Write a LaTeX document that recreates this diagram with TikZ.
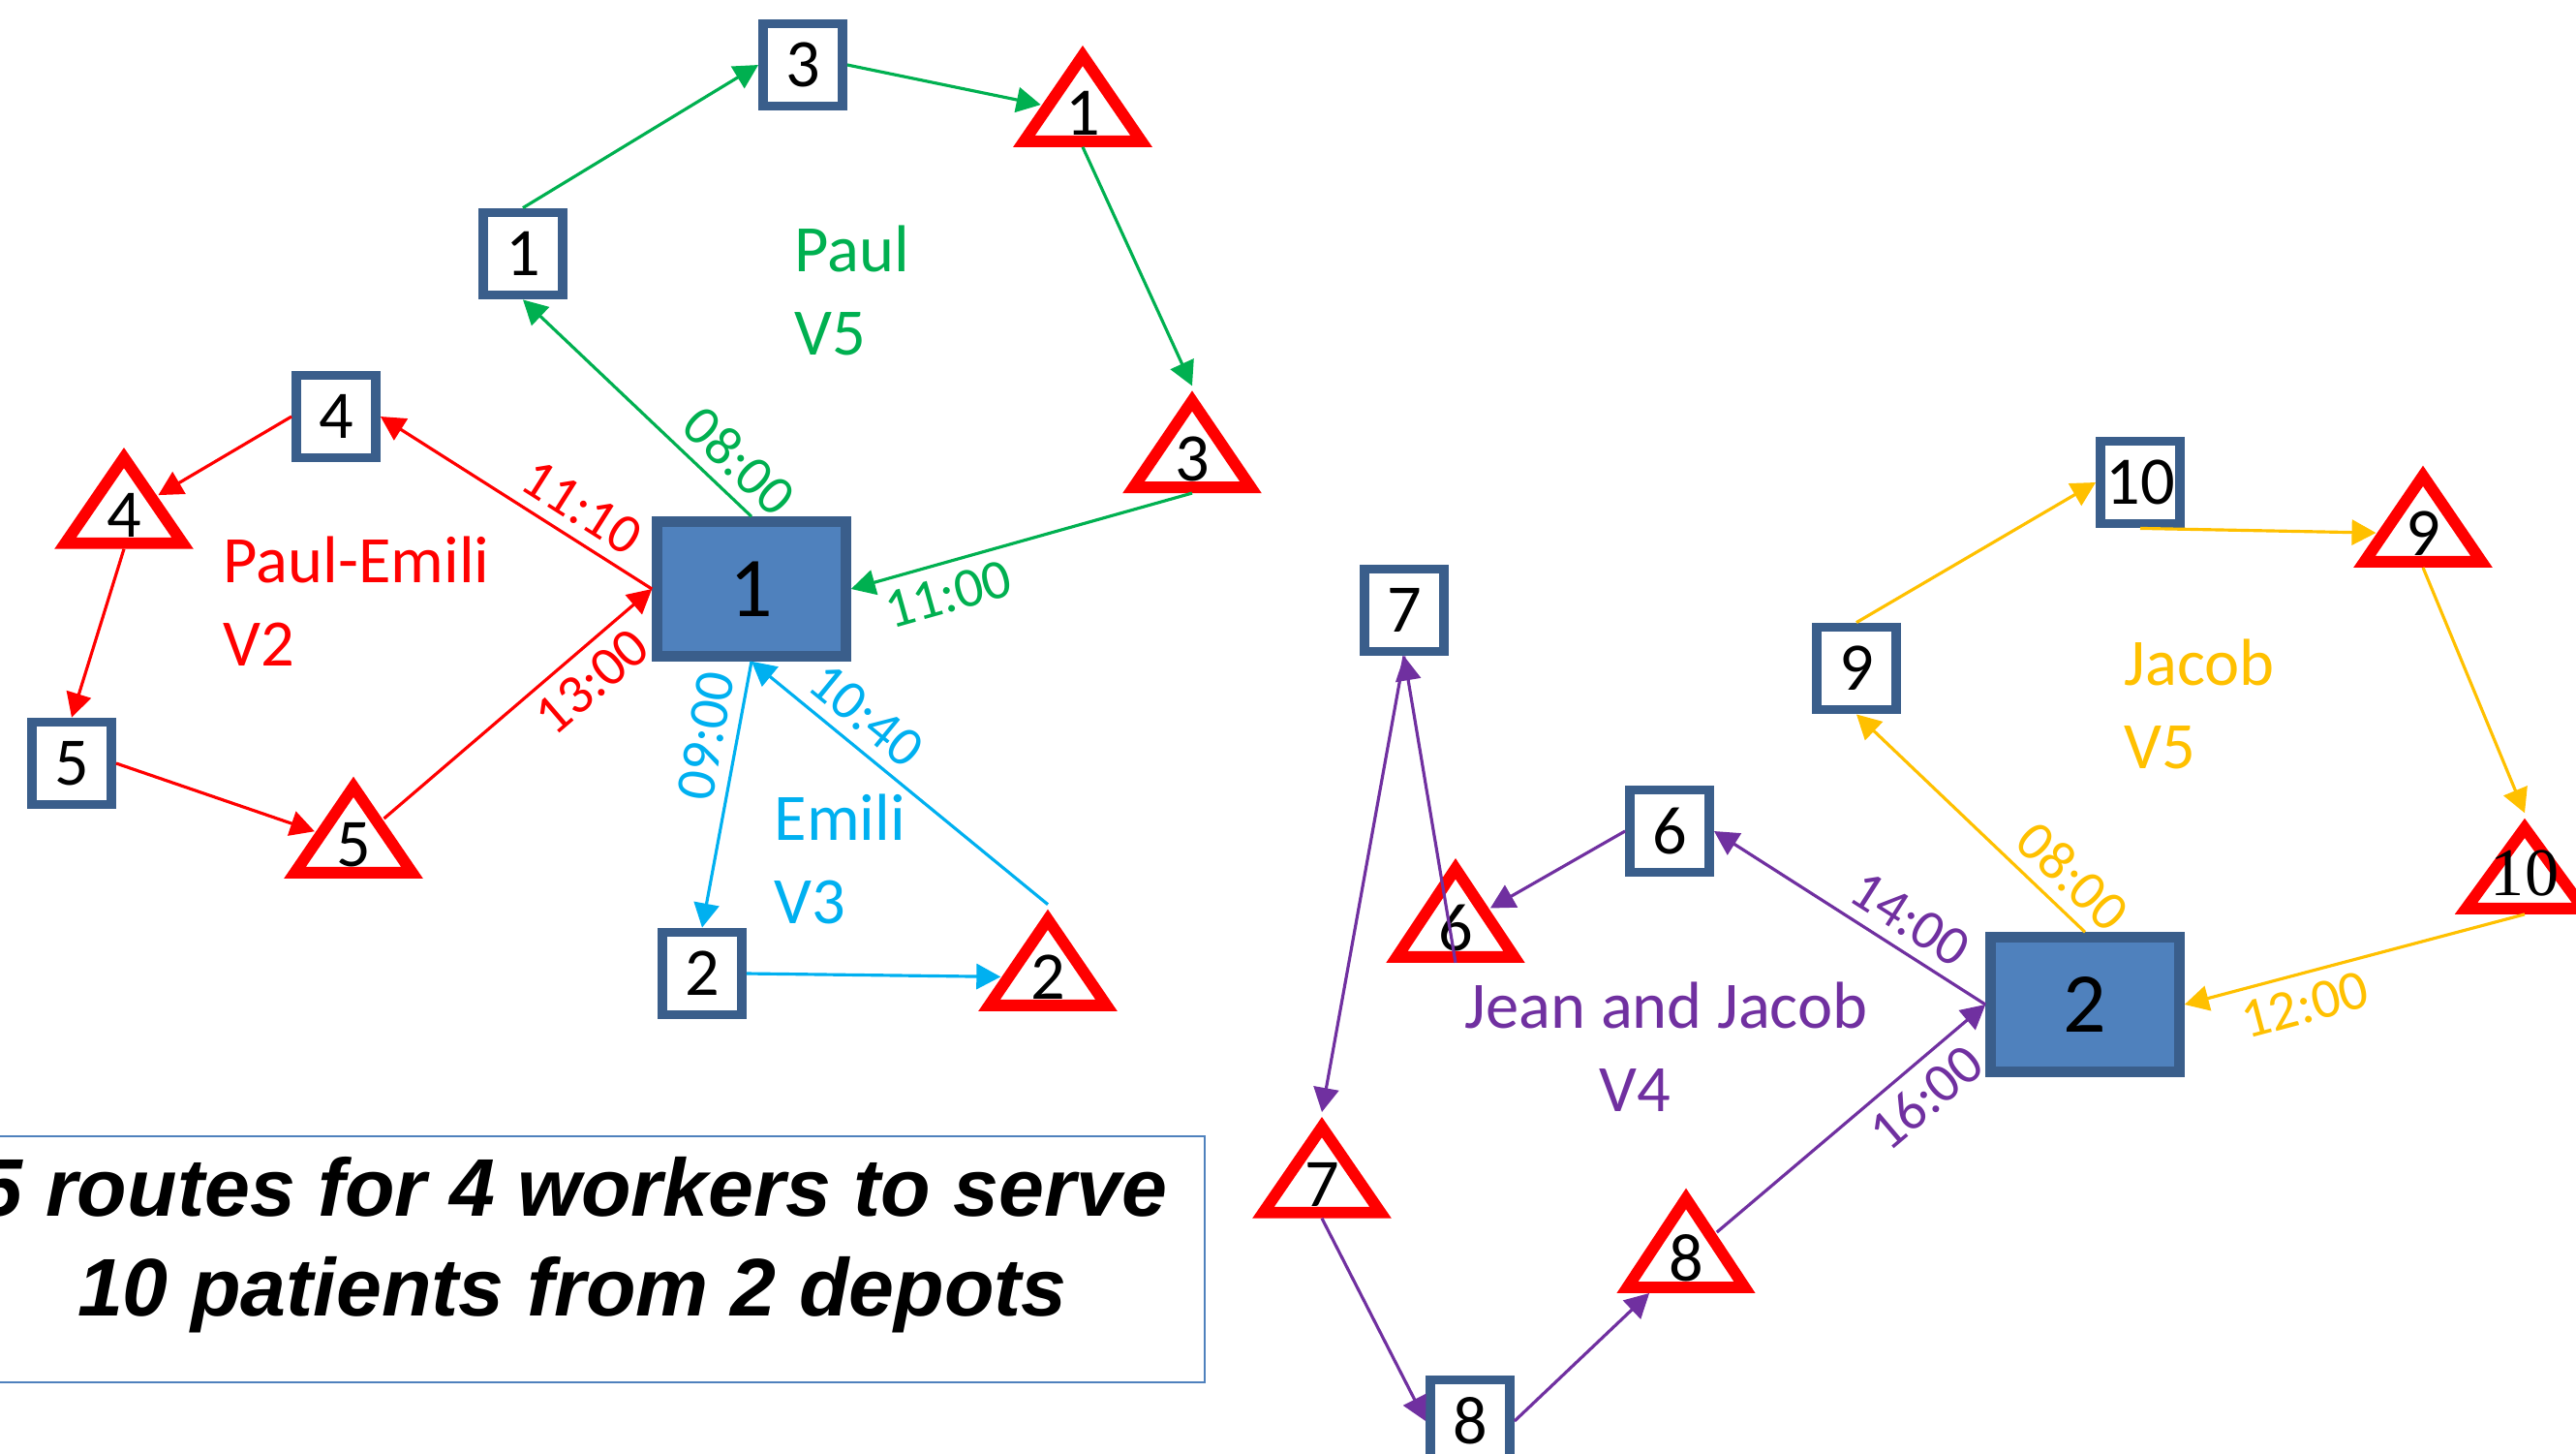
\documentclass[tikz,border=0pt]{standalone}
\usepackage{fontspec}
\setmainfont{Carlito}
\newfontfamily\capfont{Liberation Sans}
\newfontfamily\serifnum{Liberation Serif}
\usetikzlibrary{arrows.meta,shapes.geometric}

\definecolor{boxblue}{RGB}{58,94,139}
\definecolor{depotblue}{RGB}{79,129,189}
\definecolor{pgreen}{RGB}{0,176,80}
\definecolor{pred}{RGB}{255,0,0}
\definecolor{pcyan}{RGB}{0,176,240}
\definecolor{porange}{RGB}{255,192,0}
\definecolor{ppurple}{RGB}{112,48,160}

\begin{document}
\begin{tikzpicture}[
  sq/.style={rectangle, draw=boxblue, fill=white, line width=2.8pt, minimum width=8.2mm, minimum height=8.5mm, inner sep=0pt, font={\fontsize{20}{24}\selectfont}},
  depot/.style={rectangle, draw=boxblue, fill=depotblue, line width=3pt, minimum width=19.5mm, minimum height=13.9mm, inner sep=0pt, font={\fontsize{25}{30}\selectfont}},
  tri/.style={isosceles triangle, isosceles triangle stretches, shape border rotate=90, draw=pred, line width=3.4pt, minimum width=12.1mm, minimum height=8.3mm, inner sep=0pt, font={\fontsize{20}{24}\selectfont}},
  route/.style={line width=0.9pt, -{Triangle[length=2.5mm,width=2.6mm]}},
  tlab/.style={font={\fontsize{16.5}{19}\selectfont}, sloped},
  rlab/.style={anchor=base west, align=left, inner sep=0pt, font={\fontsize{19.5}{24.3}\selectfont}}
]
\useasboundingbox (0,0) rectangle (26.6,-15);

% depots
\node[depot] (d1) at (7.76,-6.08) {1};
\node[depot] (d2) at (21.53,-10.37) {2};

% pick-up points
\node[sq] (s1) at (5.40,-2.62) {1};
\node[sq] (s2) at (7.25,-10.05) {2};
\node[sq] (s3) at (8.29,-0.67) {3};
\node[sq] (s4) at (3.47,-4.30) {4};
\node[sq] (s5) at (0.74,-7.88) {5};
\node[sq] (s6) at (17.24,-8.58) {6};
\node[sq] (s7) at (14.50,-6.30) {7};
\node[sq] (s8) at (15.18,-14.67) {8};
\node[sq] (s9) at (19.17,-6.90) {9};
\node[sq] (s10) at (22.10,-4.98) {10};

% patients
\node[tri] (t1) at (11.18,-1.17) {1};
\node[tri] (t2) at (10.82,-10.09) {2};
\node[tri] (t3) at (12.31,-4.74) {3};
\node[tri] (t4) at (1.28,-5.32) {4};
\node[tri] (t5) at (3.65,-8.72) {5};
\node[tri] (t6) at (15.03,-9.58) {6};
\node[tri] (t7) at (13.65,-12.23) {7};
\node[tri] (t8) at (17.41,-12.99) {8};
\node[tri] (t9) at (25.02,-5.51) {9};
\node[tri] (t10) at (26.07,-9.01) {\makebox[0pt]{\serifnum 10}};

% route names
\node[rlab, pgreen] (paul) at (8.20,-3.66) {Paul\\V5};
\node[rlab, pred] (pe) at (2.30,-6.87) {Paul-Emili\\V2};
\node[rlab, pcyan] (emili) at (7.99,-9.53) {Emili\\V3};
\node[rlab, porange] (jacob) at (21.93,-7.93) {Jacob\\V5};
\node[rlab, ppurple] (jj) at (15.12,-11.47) {Jean and Jacob\\\hspace*{1.39cm}V4};

% Paul
\draw[route, pgreen] (d1.north) -- node[tlab, pos=0.15, above] {08:00} (s1.south);
\draw[route, pgreen] (s1.north) -- (s3.west);
\draw[route, pgreen] (s3.east) -- (t1);
\draw[route, pgreen] (t1.lower side) -- (t3.apex);
\draw[route, pgreen] (t3.lower side) -- node[tlab, pos=0.74, below] {11:00} (d1.east);

% Paul-Emili
\draw[route, pred] (d1.west) -- node[tlab, pos=0.32, above] {11:10} (s4.east);
\draw[route, pred] (s4.west) -- (t4);
\draw[route, pred] (t4.lower side) -- (s5.north);
\draw[route, pred] (s5.east) -- (t5);
\draw[route, pred] (t5) -- node[tlab, pos=0.7, below] {13:00} (d1.west);

% Emili
\draw[route, pcyan] (d1.south) -- node[tlab, pos=0.3, above] {09:00} (s2.north);
\draw[route, pcyan] (s2.east) -- (t2);
\draw[route, pcyan] (t2.apex) -- node[tlab, pos=0.68, above] {10:40} (d1.south);

% Jacob
\draw[route, porange] (d2.north) -- node[tlab, pos=0.15, above] {08:00} (s9.south);
\draw[route, porange] (s9.north) -- (s10.west);
\draw[route, porange] (s10.south) -- (t9);
\draw[route, porange] (t9.lower side) -- (t10.apex);
\draw[route, porange] (t10.lower side) -- node[tlab, pos=0.67, below] {12:00} (d2.east);

% Jean and Jacob
\draw[route, ppurple] (d2.west) -- node[tlab, pos=0.34, above] {14:00} (s6.east);
\draw[route, ppurple] (s6.west) -- (t6);
\draw[route, ppurple] (t6.lower side) -- (s7.south);
\draw[route, ppurple] (s7.south) -- (t7.apex);
\draw[route, ppurple] (t7.lower side) -- (s8.west);
\draw[route, ppurple] (s8.east) -- (t8);
\draw[route, ppurple] (t8) -- node[tlab, pos=0.7, below] {16:00} (d2.west);

% caption
\node[draw=depotblue, line width=0.6pt, minimum width=13.06cm, minimum height=2.54cm, align=center, text depth=0.48cm,
  font={\capfont\bfseries\itshape\fontsize{24}{29.3}\selectfont}] (cap) at (5.91,-13.00)
  {5 routes for 4 workers to serve\\10 patients from 2 depots};
\end{tikzpicture}
\end{document}
